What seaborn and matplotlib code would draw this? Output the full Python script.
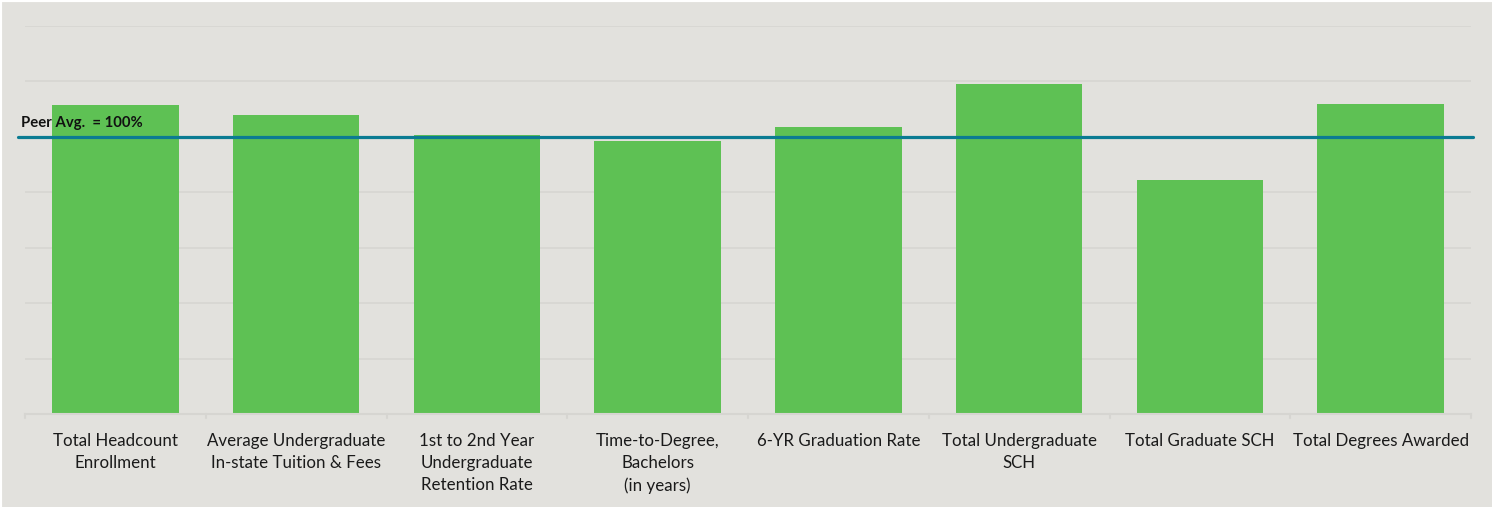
import matplotlib
matplotlib.use("Agg")
import matplotlib.pyplot as plt
import seaborn as sns
import pandas as pd

categories = [
    "Total Headcount\nEnrollment",
    "Average Undergraduate\nIn-state Tuition & Fees",
    "1st to 2nd Year\nUndergraduate\nRetention Rate",
    "Time-to-Degree,\nBachelors\n(in years)",
    "6-YR Graduation Rate",
    "Total Undergraduate\nSCH",
    "Total Graduate SCH",
    "Total Degrees Awarded",
]
values = [111.4, 107.8, 100.6, 98.4, 103.4, 118.9, 84.4, 111.6]
peer_avg = 100
peer_label = "Peer Avg.  = 100%"

BG = "#E2E1DD"
BAR = "#5EC154"
LINE = "#0B7B92"
GRID = "#D6D5D1"

sns.set_theme(style="white")
plt.rcParams["font.family"] = ["Lato", "DejaVu Sans"]

df = pd.DataFrame({"cat": categories, "val": values})

fig = plt.figure(figsize=(14.92, 5.07), dpi=100, facecolor=BG)
ax = fig.add_axes([25 / 1492, 1 - 414 / 507, 1446 / 1492, (414 - 25.6) / 507])
ax.set_facecolor(BG)

sns.barplot(data=df, x="cat", y="val", color=BAR, width=0.70, ax=ax,
            saturation=1, edgecolor="none", zorder=2)

ax.set_ylim(0, 140)
ax.set_xlim(-0.5, len(categories) - 0.5)
ax.set_yticks(range(20, 141, 20))
ax.yaxis.grid(True, color=GRID, linewidth=1.2, zorder=0)
ax.set_axisbelow(True)
ax.tick_params(axis="y", left=False, labelleft=False)
for s in ["top", "right", "left"]:
    ax.spines[s].set_visible(False)
ax.spines["bottom"].set_color(GRID)
ax.spines["bottom"].set_linewidth(1.5)

ax.set_xlabel("")
ax.set_ylabel("")
ax.set_xticks(range(len(categories)))
ax.set_xticklabels(categories, fontsize=12.2, color="#1a1a1a", linespacing=1.45, va="top")
ax.tick_params(axis="x", length=0, pad=14)
# boundary ticks
for b in [i - 0.5 for i in range(len(categories) + 1)]:
    ax.plot([b, b], [0, -1.4], color=GRID, linewidth=1.5, clip_on=False, zorder=1)

ax.axhline(peer_avg, xmin=-0.005, xmax=1.0014, color=LINE, linewidth=2.3,
           clip_on=False, zorder=3)
ax.text(-0.524, peer_avg + 2.2, peer_label, fontsize=10.7,
        fontweight="bold", color="#111111", ha="left", va="bottom", zorder=4)

# thin white frame on the top and left edges
fig.add_artist(plt.Line2D([0, 1], [1, 1], transform=fig.transFigure, color="white", linewidth=3))
fig.add_artist(plt.Line2D([0, 0], [0, 1], transform=fig.transFigure, color="white", linewidth=3))

fig.savefig("out.png", dpi=100, facecolor=BG)
